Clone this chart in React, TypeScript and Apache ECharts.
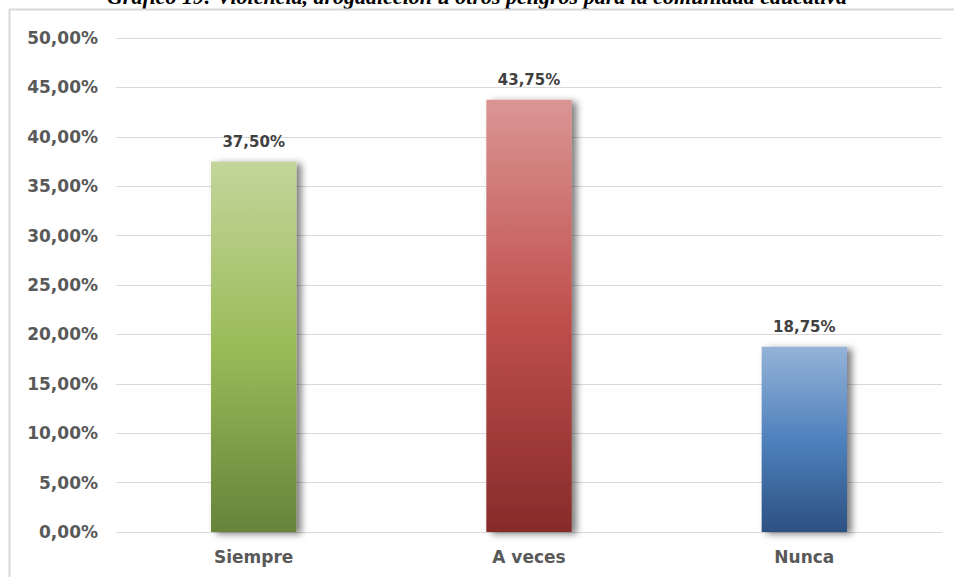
import React, { useEffect, useRef } from "react";
import * as echarts from "echarts";

const titleText = "Gráfico 19: Violencia, drogadicción u otros peligros para la comunidad educativa";
const categories = ["Siempre", "A veces", "Nunca"];
const values = [0.375, 0.4375, 0.1875];
const topColors = ["#c3d69b", "#da9694", "#95b3d7"];
const midColors = ["#9bbb59", "#c0504d", "#4f81bd"];
const bottomColors = ["#66843a", "#862b29", "#2c5182"];

const pct = (v: number) => (v * 100).toFixed(2).replace(".", ",") + "%";
const labelFont = "'DejaVu Sans', 'Liberation Sans', Arial, sans-serif";

export default function App() {
  const ref = useRef<HTMLDivElement>(null);
  useEffect(() => {
    if (!ref.current) return;
    const chart = echarts.init(ref.current, null, { renderer: "svg" });
    chart.setOption({
      animation: false,
      backgroundColor: "#ffffff",
      graphic: [
        {
          type: "text",
          left: "center",
          top: -15,
          style: {
            text: titleText,
            font: "italic bold 22px 'Liberation Serif', 'Times New Roman', serif",
            fill: "#000000",
          },
        },
        {
          type: "line",
          shape: { x1: 9, y1: 9.5, x2: 954, y2: 9.5 },
          style: { stroke: "#d9d9d9", lineWidth: 2 },
        },
        {
          type: "line",
          shape: { x1: 9.5, y1: 9, x2: 9.5, y2: 577 },
          style: { stroke: "#d9d9d9", lineWidth: 2 },
        },
      ],
      grid: { left: 116, right: 12, top: 38, bottom: 45 },
      xAxis: {
        type: "category",
        data: categories,
        axisLine: { show: true, lineStyle: { color: "#d9d9d9", width: 1 } },
        axisTick: { show: false },
        axisLabel: {
          color: "#595959",
          fontFamily: labelFont,
          fontWeight: "bold",
          fontSize: 17,
          margin: 16,
        },
      },
      yAxis: {
        type: "value",
        min: 0,
        max: 0.5,
        interval: 0.05,
        axisLine: { show: false },
        axisTick: { show: false },
        splitLine: { lineStyle: { color: "#d9d9d9", width: 1 } },
        axisLabel: {
          color: "#595959",
          fontFamily: labelFont,
          fontWeight: "bold",
          fontSize: 17,
          margin: 18,
          formatter: (v: number) => pct(v),
        },
      },
      series: [
        {
          type: "bar",
          barWidth: "31%",
          data: values.map((v, i) => ({
            value: v,
            itemStyle: {
              color: new echarts.graphic.LinearGradient(0, 0, 0, 1, [
                { offset: 0, color: topColors[i] },
                { offset: 0.5, color: midColors[i] },
                { offset: 1, color: bottomColors[i] },
              ]),
              shadowColor: "rgba(0,0,0,0.5)",
              shadowBlur: 7,
              shadowOffsetX: 5,
              shadowOffsetY: 2,
            },
          })),
          label: {
            show: true,
            position: "top",
            distance: 12,
            color: "#404040",
            fontFamily: labelFont,
            fontWeight: "bold",
            fontSize: 15,
            formatter: (p: any) => pct(p.value),
          },
        },
      ],
    });
    return () => chart.dispose();
  }, []);
  return (
    <div
      ref={ref}
      style={{ position: "absolute", left: 0, top: 0, width: 954, height: 577 }}
    />
  );
}
